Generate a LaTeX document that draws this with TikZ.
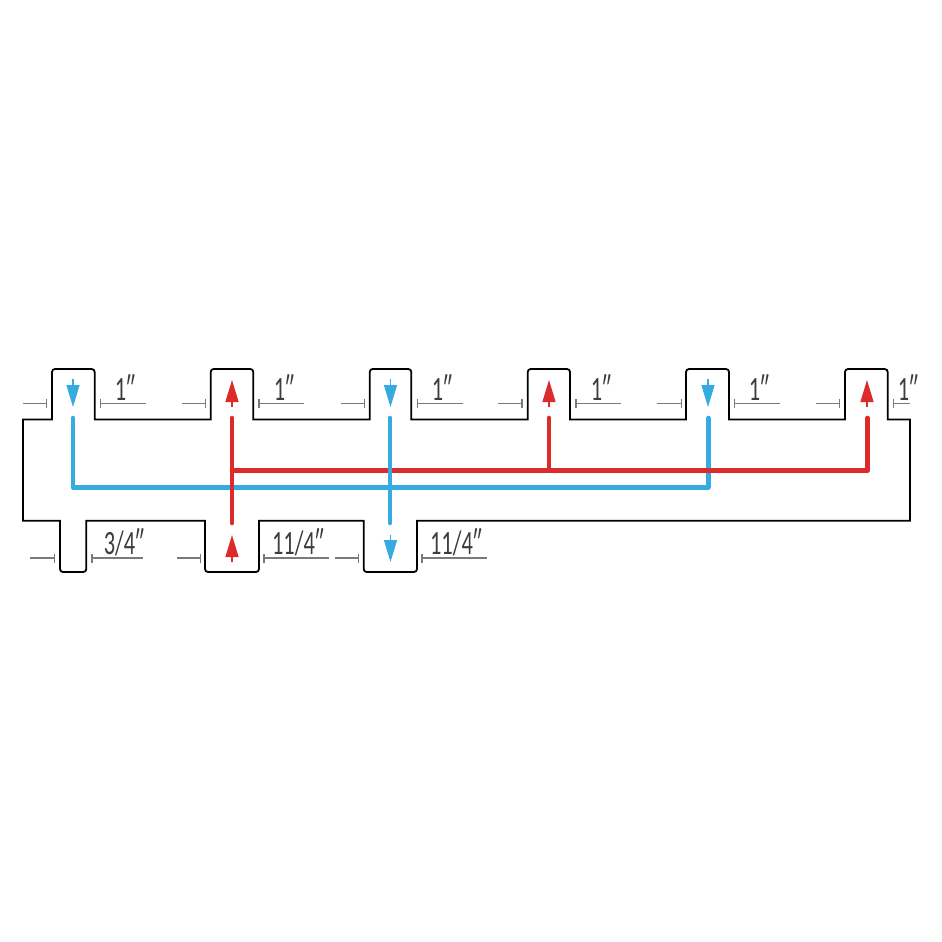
\documentclass[tikz,border=0pt]{standalone}
\usepackage{fontspec}
\setmainfont[FakeStretch=0.66]{Carlito}
\usetikzlibrary{arrows.meta,positioning}
\definecolor{pipeblue}{HTML}{35ABE0}
\definecolor{pipered}{HTML}{DB2B2B}
\definecolor{dimgray}{HTML}{7A7A7A}
\definecolor{labelgray}{HTML}{3C3C3C}

\begin{document}
\begin{tikzpicture}[x=1pt,y=-1pt,
    body/.style={draw=black, line width=1.8pt, line join=miter},
    pipe/.style={line width=4.6pt, line cap=round, line join=round},
    flow/.style={line width=1.3pt, -{Triangle[length=22pt,width=13pt]}},
    dimleft/.style={draw=dimgray, line width=1.1pt, -{Bar[width=9pt,line width=1.5pt]}},
    dimright/.style={draw=dimgray, line width=1.1pt, {Bar[width=9pt,line width=1.5pt]}-},
    size/.style={text=labelgray, font=\fontsize{34}{34}\selectfont, anchor=base, inner sep=0pt}]

    \useasboundingbox (0,0) rectangle (942,942);

    % Body
    \draw [body] (23,419.5) -- (52,419.5)
        [rounded corners=3] -- (52,369) -- (94.7,369) [sharp corners] -- (94.7,419.5)
        -- (210.7,419.5) [rounded corners=3] -- (210.7,369) -- (253.3,369) [sharp corners] -- (253.3,419.5)
        -- (369.7,419.5) [rounded corners=3] -- (369.7,369) -- (411.3,369) [sharp corners] -- (411.3,419.5)
        -- (527.7,419.5) [rounded corners=3] -- (527.7,369) -- (570,369) [sharp corners] -- (570,419.5)
        -- (686,419.5) [rounded corners=3] -- (686,369) -- (729,369) [sharp corners] -- (729,419.5)
        -- (845,419.5) [rounded corners=3] -- (845,369) -- (887.7,369) [sharp corners] -- (887.7,419.5)
        -- (910,419.5) -- (910,520.7)
        -- (417,520.7) [rounded corners=3] -- (417,572) -- (363.7,572) [sharp corners] -- (363.7,520.7)
        -- (259,520.7) [rounded corners=3] -- (259,572) -- (205,572) [sharp corners] -- (205,520.7)
        -- (86.3,520.7) [rounded corners=3] -- (86.3,572) -- (60,572) [sharp corners] -- (60,520.7)
        -- (23,520.7) -- cycle;

    % Pipe ends
    \coordinate (coldA) at (73,418);
    \coordinate (coldAcorner) at (73,487.3);
    \coordinate (coldB) at (708.3,418);
    \coordinate (coldBcorner) at (708.3,487.3);
    \coordinate (coldC) at (390,418);
    \coordinate (coldOut) at (390,523);
    \coordinate (hotA) at (232,418);
    \coordinate (hotIn) at (232,523);
    \coordinate (hotTee) at (232,470.3);
    \coordinate (hotB) at (549,418);
    \coordinate (hotBtee) at (549,470.3);
    \coordinate (hotC) at (867.7,418);
    \coordinate (hotCcorner) at (867.7,470.3);

    % Pipes
    \draw [pipe, pipeblue] (coldA) -- (coldAcorner) -- (coldBcorner) -- (coldB);
    \draw [pipe, pipered] (hotTee) -- (hotCcorner) -- (hotC);
    \draw [pipe, pipered] (hotB) -- (hotBtee);
    \draw [pipe, pipered] (hotA) -- (hotIn);
    \draw [pipe, pipeblue] (coldC) -- (coldOut);

    % Flow arrows
    \draw [flow, pipeblue] (73,379) -- (73,407);
    \draw [flow, pipered] (232,407) -- (232,380);
    \draw [flow, pipeblue] (390.5,379) -- (390.5,407);
    \draw [flow, pipered] (549,407) -- (549,380);
    \draw [flow, pipeblue] (708,379) -- (708,407);
    \draw [flow, pipered] (867,407) -- (867,380);
    \draw [flow, pipered] (232,562) -- (232,535);
    \draw [flow, pipeblue] (390.5,535) -- (390.5,562);

    % Size marks
    \draw [dimleft] (22.7,403.7) -- (47.3,403.7);
    \draw [dimright] (99.7,403.7) -- (145.7,403.7);
    \draw [dimleft] (181.7,403.7) -- (206.3,403.7);
    \draw [dimright] (258.3,403.7) -- (304.3,403.7);
    \draw [dimleft] (340.7,403.7) -- (365.3,403.7);
    \draw [dimright] (416.7,403.7) -- (462.7,403.7);
    \draw [dimleft] (498,403.7) -- (522.7,403.7);
    \draw [dimright] (575,403.7) -- (621,403.7);
    \draw [dimleft] (657.3,403.7) -- (682,403.7);
    \draw [dimright] (733.7,403.7) -- (779.7,403.7);
    \draw [dimleft] (815.7,403.7) -- (840.3,403.7);
    \draw [dimright] (892.7,403.7) -- (910.3,403.7);
    \draw [dimleft] (30,558) -- (55,558);
    \draw [dimright] (91,558) -- (142.7,558);
    \draw [dimleft] (176.7,558) -- (201.3,558);
    \draw [dimright] (263.3,558) -- (329,558);
    \draw [dimleft] (334.7,558) -- (359.3,558);
    \draw [dimright] (421.3,558) -- (486.7,558);

    % Labels
    \node [size] (sizeA) at (125,400) {1″};
    \node [size] (sizeB) at (284,400) {1″};
    \node [size] (sizeC) at (442,400) {1″};
    \node [size] (sizeD) at (601,400) {1″};
    \node [size] (sizeE) at (759,400) {1″};
    \node [size] (sizeF) at (908,400) {1″};
    \node [size] (sizeG) at (124,554) {3/4″};
    \node [size] (sizeH) at (298,554) {11/4″};
    \node [size] (sizeI) at (456,554) {11/4″};
\end{tikzpicture}
\end{document}
